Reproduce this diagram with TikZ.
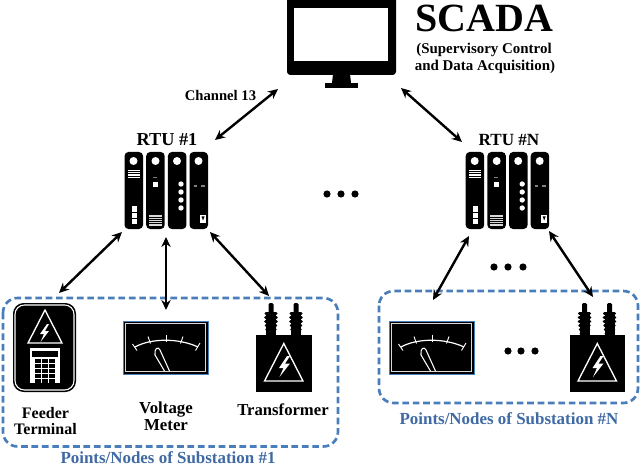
\documentclass[tikz,border=0pt]{standalone}
\usepackage{fontspec}
\setmainfont{Liberation Serif}
\usetikzlibrary{arrows.meta}
\definecolor{boxblue}{HTML}{4A7EBB}
\definecolor{txtblue}{HTML}{3F6AA3}
\newcommand{\txt}[1]{\fontsize{#1}{#1}\selectfont\bfseries}
\tikzset{
  x=0.75pt,y=-0.75pt,
  link/.style={line width=1.8pt,{Stealth[length=7.5pt,width=7pt]}-{Stealth[length=7.5pt,width=7pt]}},
  subbox/.style={draw=boxblue,line width=2pt,dash pattern=on 5pt off 2.8pt,rounded corners=11pt},
  lbl/.style={inner sep=0pt,align=center,text=black},
  bluelbl/.style={inner sep=0pt,text=txtblue},
  pics/rtuunit/.style={code={
    \foreach \cx in {0,21.7,43.4,65}{
      \fill[black,rounded corners=3pt] (\cx,0) rectangle (\cx+18.5,77);
    }
    \foreach \cx in {9,31,52.5,74}{\fill[white] (\cx,9) circle (3pt);}
    \fill[white] (3,18) rectangle (15.5,19.2);
    \fill[white] (3,20.2) rectangle (15.5,21.4);
    \fill[white] (3,22.4) rectangle (15.5,23.6);
    \fill[white] (3,25) rectangle (15.5,26.2);
    \fill[white] (7,54) rectangle (12,60);
    \fill[white] (7,61) rectangle (12,66);
    \fill[white] (7,67) rectangle (12,72);
    \fill[gray] (28.5,25) rectangle (32.5,26);
    \fill[white] (28.5,30) rectangle (33,35.5);
    \foreach \yy in {63.5,65.7,67.9,70.1,72.3}{\fill[white!85!black] (24.5,\yy) rectangle (37.5,\yy+1.2);}
    \foreach \yy in {32,40,48,56}{\fill[white] (56.5,\yy) circle (2pt);}
    \fill[gray] (69,33.5) rectangle (72,35);
    \fill[gray] (76.5,33.5) rectangle (80,35);
    \fill[white] (75.5,63) rectangle (81.5,71);
    \fill[black] (77,64.5) -- (78.5,68.5) -- (80,64.5) -- cycle;
  }},
  pics/meterunit/.style={code={
    \fill[black,draw=boxblue,line width=0.6pt] (0,0) rectangle (85,53);
    \draw[white!85!black,line width=0.9pt] (2.5,2.5) rectangle (82.5,50.5);
    \draw[white,line width=0.9pt] (12,26) .. controls (28,17) and (56,17) .. (75,26);
    \draw[white,line width=0.7pt] (9.5,23) -- (14,29.5);
    \draw[white,line width=0.7pt] (25,15.5) -- (27.5,22.5);
    \draw[white,line width=0.7pt] (43,13.5) -- (43,21);
    \draw[white,line width=0.7pt] (60,15.5) -- (57.5,22.5);
    \draw[white,line width=0.7pt] (77,22) -- (72.5,29.5);
    \draw[white,line width=0.8pt] (41.5,50) -- (32,34) .. controls (31,27.5) and (35,25) .. (37,29) -- (46.5,50);
  }},
  pics/xformer/.style={code={
    \fill[black] (0,32) rectangle (55.5,88.5);
    \foreach \bx in {15,40}{
      \fill[black,rounded corners=1pt] (\bx-2.5,0) rectangle (\bx+2.5,34);
      \foreach \yy/\hw in {9/6.5,13/6.8,17/6.8,21/6.2,25/5.6,29/5}{
        \fill[black,rounded corners=1pt] (\bx-\hw,\yy) rectangle (\bx+\hw,\yy+3);
      }
      \fill[black] (\bx-5,10) rectangle (\bx+5,33);
    }
    \draw[white,line width=1pt,line join=miter] (27.8,40.5) -- (47,78) -- (8.5,78) -- cycle;
    \fill[white] (31,53) -- (23,65) -- (27.5,65) -- (23.5,74) -- (34,60.5) -- (29,60.5) -- (34,53) -- cycle;
  }},
}
\begin{document}
\begin{tikzpicture}
\useasboundingbox (0,0) rectangle (640,467);
\fill[white] (0,0) rectangle (640,467);

% monitor
\fill[black,rounded corners=2.5pt] (287,-3) rectangle (396,75);
\fill[white] (294,8) rectangle (388,61);
\fill[black] (333,74) -- (350,74) -- (351,83) -- (332,83) -- cycle;
\fill[black] (325,83) rectangle (358,88);
\node[lbl] (title) at (484.5,18.5) {\txt{30}SCADA};
\node[lbl] (sub1) at (484,50) {\txt{11.2}(Supervisory Control};
\node[lbl] (sub2) at (485,67) {\txt{11.2}and Data Acquisition)};
\coordinate (mL) at (278,89);
\coordinate (mR) at (401,88);

\node[lbl] (chan) at (220.5,95) {\txt{11}Channel 13};
\node[lbl] (rtuA) at (167,140) {\txt{13.7}RTU \#1};
\node[lbl] (rtuB) at (509,140) {\txt{12.8}RTU \#N};

\pic at (124.5,152) {rtuunit};
\pic at (465.7,152) {rtuunit};

\coordinate (a0) at (215,140);
\coordinate (b0) at (462,142);
\draw[link] (a0) -- (mL);
\draw[link] (mR) -- (b0);

% overview dots
\foreach \dx/\dy/\nm in {327/194/d1,341/194/d2,355/194/d3,494/267/d4,508/267/d5,523/267/d6,508/351/d7,521/351/d8,535/351/d9}{
  \fill[black] (\dx,\dy) circle (2.7pt);
}

% boxes
\draw[subbox] (3,298) rectangle (338,446.5);
\draw[subbox] (379,291) rectangle (638,403);

% feeder terminal
\fill[black,rounded corners=8pt] (13,303) rectangle (76,392);
\draw[white,line width=0.8pt,rounded corners=7pt] (15,305) rectangle (74,390);
\draw[white,line width=1pt,line join=miter] (45,310) -- (62,343) -- (28,343) -- cycle;
\fill[white] (47,324) -- (40,334) -- (44,334) -- (40.5,342) -- (49,331) -- (45,331) -- (49,324) -- cycle;
\fill[white] (30,348) rectangle (60,383);
\fill[black] (32,350.5) rectangle (58,357);
\foreach \kx in {35,42,49}{
  \foreach \ky in {359,364,369,374,379}{
    \fill[black] (\kx,\ky) rectangle (\kx+6,\ky+3.6);
  }
}
\node[lbl] (ft) at (45.5,421) {\txt{12}Feeder\\[0.5pt]\txt{12}Terminal};

% meters, transformers
\pic at (123,321) {meterunit};
\pic at (389,321) {meterunit};
\pic at (256,303) {xformer};
\pic at (569.5,303) {xformer};
\node[lbl] (vm) at (166,416.5) {\txt{12.6}Voltage\\[1pt]\txt{12.6}Meter};
\node[lbl] (tf) at (283,410) {\txt{12.5}Transformer};

% links
\coordinate (a1) at (122,232);
\coordinate (a2) at (166,237);
\coordinate (a3) at (210,232);
\coordinate (t1) at (59,293);
\coordinate (t2) at (166,310);
\coordinate (t3) at (269,296);
\coordinate (b1) at (469,236);
\coordinate (b2) at (549,231);
\coordinate (t4) at (433,300);
\coordinate (t5) at (593,297);
\draw[link] (a1) -- (t1);
\draw[link] (a2) -- (t2);
\draw[link] (a3) -- (t3);
\draw[link] (b1) -- (t4);
\draw[link] (b2) -- (t5);

\node[bluelbl] (s1) at (168,458) {\txt{12.7}Points/Nodes of Substation \#1};
\node[bluelbl] (s2) at (509,419) {\txt{12.7}Points/Nodes of Substation \#N};
\end{tikzpicture}
\end{document}
